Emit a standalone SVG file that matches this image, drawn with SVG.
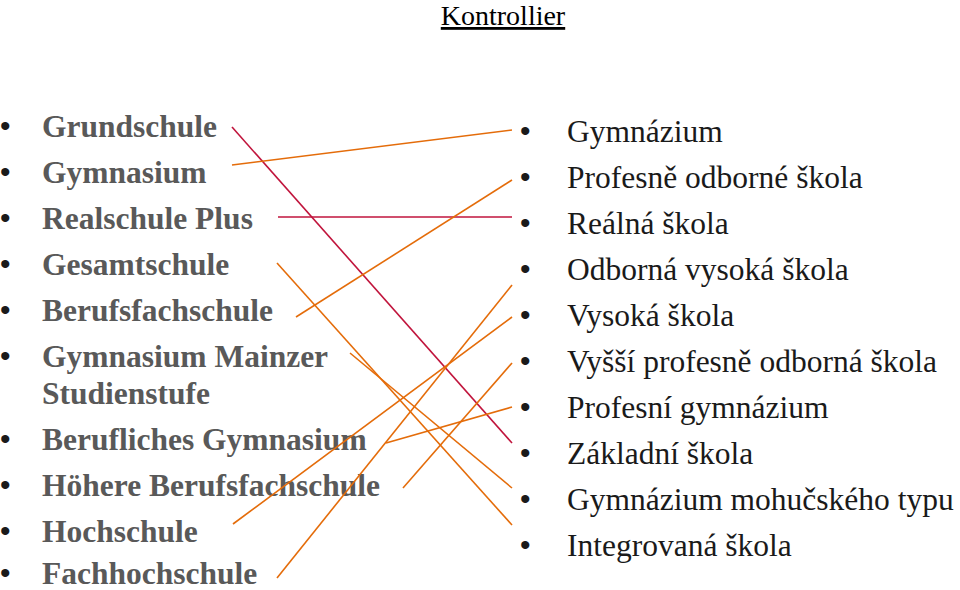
<svg xmlns="http://www.w3.org/2000/svg" width="960" height="590" viewBox="0 0 960 590">
<style>
.l{font-family:"Liberation Serif",serif;font-size:31.5px;font-weight:bold;fill:#595959}
.r{font-family:"Liberation Serif",serif;font-size:31.5px;fill:#1a1a1a}
.b{font-family:"Liberation Sans",sans-serif;font-size:30px;fill:#1a1a1a}
.t{font-family:"Liberation Serif",serif;font-size:28px;fill:#000;text-decoration:underline}
.o{stroke:#e46c0a;stroke-width:1.6}
.d{stroke:#c0143c;stroke-width:1.6}
</style>
<rect width="960" height="590" fill="#fff"/>
<text class="t" x="503" y="25" text-anchor="middle">Kontrollier</text>
<g id="left">
<text class="b" x="0" y="136">•</text><text class="l" x="42" y="137">Grundschule</text>
<text class="b" x="0" y="182">•</text><text class="l" x="42" y="183">Gymnasium</text>
<text class="b" x="0" y="228">•</text><text class="l" x="42" y="229">Realschule Plus</text>
<text class="b" x="0" y="274">•</text><text class="l" x="42" y="275">Gesamtschule</text>
<text class="b" x="0" y="320">•</text><text class="l" x="42" y="321">Berufsfachschule</text>
<text class="b" x="0" y="366">•</text><text class="l" x="42" y="367">Gymnasium Mainzer</text>
<text class="l" x="42" y="404">Studienstufe</text>
<text class="b" x="0" y="449">•</text><text class="l" x="42" y="450">Berufliches Gymnasium</text>
<text class="b" x="0" y="495">•</text><text class="l" x="42" y="496">Höhere Berufsfachschule</text>
<text class="b" x="0" y="541">•</text><text class="l" x="42" y="542">Hochschule</text>
<text class="b" x="0" y="583">•</text><text class="l" x="42" y="584">Fachhochschule</text>
</g>
<g id="right">
<text class="b" x="520" y="141">•</text><text class="r" x="567" y="142">Gymnázium</text>
<text class="b" x="520" y="187">•</text><text class="r" x="567" y="188">Profesně odborné škola</text>
<text class="b" x="520" y="233">•</text><text class="r" x="567" y="234">Reálná škola</text>
<text class="b" x="520" y="279">•</text><text class="r" x="567" y="280">Odborná vysoká škola</text>
<text class="b" x="520" y="325">•</text><text class="r" x="567" y="326">Vysoká škola</text>
<text class="b" x="520" y="371">•</text><text class="r" x="567" y="372">Vyšší profesně odborná škola</text>
<text class="b" x="520" y="417">•</text><text class="r" x="567" y="418">Profesní gymnázium</text>
<text class="b" x="520" y="463">•</text><text class="r" x="567" y="464">Základní škola</text>
<text class="b" x="520" y="509">•</text><text class="r" x="567" y="510">Gymnázium mohučského typu</text>
<text class="b" x="520" y="555">•</text><text class="r" x="567" y="556">Integrovaná škola</text>
</g>
<g id="connectors">
<line class="d" x1="232" y1="127" x2="512" y2="443"/>
<line class="o" x1="232" y1="165" x2="512" y2="130"/>
<line class="d" x1="278" y1="217" x2="512" y2="217"/>
<line class="o" x1="277" y1="263" x2="512" y2="525"/>
<line class="o" x1="296" y1="317" x2="512" y2="180"/>
<line class="o" x1="350" y1="353" x2="512" y2="488"/>
<line class="o" x1="386" y1="443" x2="512" y2="407"/>
<line class="o" x1="403" y1="488" x2="512" y2="363"/>
<line class="o" x1="233" y1="524" x2="512" y2="317"/>
<line class="o" x1="277" y1="578" x2="512" y2="285"/>
</g>
</svg>
